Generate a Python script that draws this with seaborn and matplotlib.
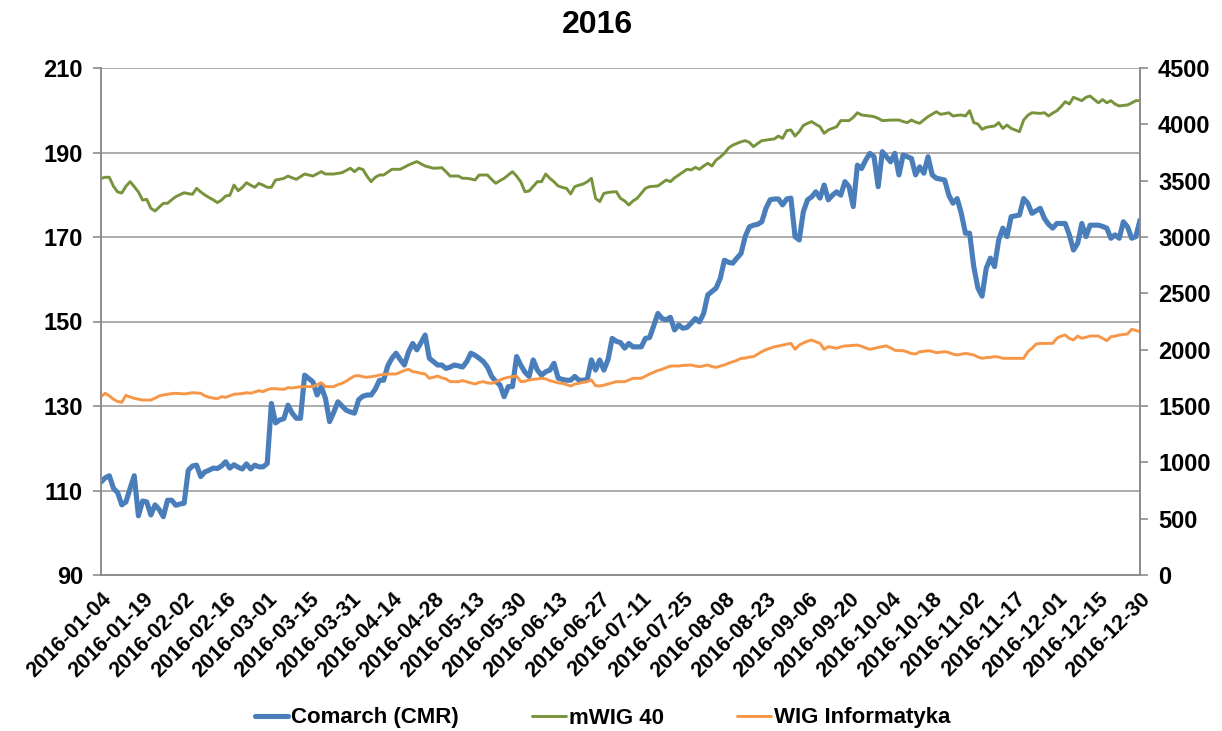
import numpy as np
import pandas as pd
import matplotlib
matplotlib.use("Agg")
import matplotlib.pyplot as plt
import seaborn as sns
from matplotlib.ticker import MultipleLocator

# Notowania 2016 - sesje giełdowe (indeks sesji 0..250)
tick_dates = [
    "2016-01-04", "2016-01-19", "2016-02-02", "2016-02-16", "2016-03-01",
    "2016-03-15", "2016-03-31", "2016-04-14", "2016-04-28", "2016-05-13",
    "2016-05-30", "2016-06-13", "2016-06-27", "2016-07-11", "2016-07-25",
    "2016-08-08", "2016-08-23", "2016-09-06", "2016-09-20", "2016-10-04",
    "2016-10-18", "2016-11-02", "2016-11-17", "2016-12-01", "2016-12-15",
    "2016-12-30",
]

comarch = [
    112.0, 113.0, 113.5, 110.5, 109.5, 106.6, 107.3, 110.5, 113.5, 104.0,
    107.5, 107.3, 104.2, 106.6, 105.5, 103.8, 107.7, 107.7, 106.5, 106.8,
    107.0, 114.8, 115.8, 116.0, 113.3, 114.4, 114.8, 115.3, 115.2, 115.8,
    116.8, 115.3, 116.1, 115.5, 115.1, 116.3, 115.1, 116.0, 115.6, 115.6,
    116.4, 130.6, 126.0, 126.7, 127.0, 130.2, 128.3, 127.1, 127.1, 137.3,
    136.5, 135.7, 132.6, 134.6, 131.8, 126.3, 128.5, 131.0, 130.0, 129.0,
    128.6, 128.3, 131.5, 132.3, 132.6, 132.6, 134.0, 136.1, 136.1, 139.5,
    141.3, 142.5, 141.0, 139.7, 142.8, 144.8, 143.3, 145.0, 146.8, 141.3,
    140.5, 139.7, 139.7, 138.9, 139.2, 139.7, 139.5, 139.2, 140.5, 142.5,
    142.0, 141.3, 140.5, 139.2, 137.0, 135.8, 135.0, 132.2, 134.6, 134.6,
    141.7, 139.7, 138.0, 137.0, 140.9, 138.5, 137.3, 138.1, 138.5, 140.1,
    136.6, 136.3, 136.1, 136.1, 137.0, 136.1, 136.1, 136.3, 140.9, 138.5,
    140.9, 138.5, 141.0, 146.0, 145.3, 145.0, 143.7, 144.8, 144.0, 144.0,
    144.0, 146.0, 146.2, 149.0, 151.9, 150.7, 150.4, 151.0, 148.0, 149.2,
    148.4, 148.6, 149.6, 150.7, 149.9, 151.9, 156.3, 157.1, 157.9, 160.2,
    164.5, 164.0, 163.8, 165.0, 166.1, 170.1, 172.4, 172.8, 173.0, 173.6,
    176.8, 178.8, 179.0, 179.0, 177.6, 179.0, 179.2, 170.1, 169.3, 176.0,
    178.8, 179.5, 180.7, 179.2, 182.3, 178.8, 179.9, 180.7, 179.9, 183.1,
    181.9, 177.2, 187.0, 186.2, 188.2, 189.8, 189.0, 181.9, 190.2, 189.0,
    187.8, 189.8, 184.7, 189.4, 189.0, 188.6, 184.7, 186.6, 185.1, 189.0,
    184.7, 183.9, 183.7, 183.5, 179.9, 178.0, 179.1, 175.6, 170.9, 170.9,
    163.0, 157.9, 156.0, 162.6, 165.0, 163.0, 169.3, 172.1, 170.1, 174.8,
    175.0, 175.2, 179.1, 178.0, 175.6, 176.2, 176.8, 174.4, 173.0, 172.1,
    173.2, 173.2, 173.2, 170.5, 166.9, 168.5, 173.2, 170.1, 172.8, 172.8,
    172.8, 172.5, 172.1, 169.7, 170.5, 169.7, 173.6, 172.4, 169.7, 170.1,
    174.0,
]

mwig40 = [
    3520, 3530, 3530, 3450, 3400, 3390, 3450, 3491, 3447, 3400,
    3328, 3334, 3255, 3231, 3265, 3299, 3299, 3330, 3358, 3375,
    3393, 3385, 3379, 3432, 3400, 3373, 3350, 3330, 3305, 3328,
    3364, 3370, 3461, 3411, 3440, 3482, 3460, 3441, 3476, 3460,
    3441, 3441, 3506, 3512, 3520, 3541, 3525, 3512, 3535, 3559,
    3550, 3541, 3560, 3580, 3559, 3559, 3559, 3565, 3571, 3590,
    3610, 3580, 3610, 3600, 3540, 3491, 3530, 3550, 3550, 3575,
    3601, 3601, 3601, 3620, 3639, 3655, 3669, 3650, 3630, 3620,
    3610, 3612, 3615, 3580, 3541, 3541, 3541, 3521, 3521, 3515,
    3506, 3550, 3550, 3550, 3510, 3477, 3500, 3521, 3550, 3580,
    3540, 3491, 3402, 3408, 3450, 3491, 3491, 3559, 3521, 3490,
    3453, 3440, 3432, 3382, 3447, 3460, 3470, 3490, 3521, 3343,
    3314, 3387, 3395, 3400, 3402, 3343, 3320, 3284, 3320, 3343,
    3388, 3432, 3447, 3450, 3453, 3480, 3506, 3491, 3525, 3550,
    3575, 3601, 3595, 3618, 3601, 3630, 3654, 3630, 3683, 3710,
    3743, 3790, 3815, 3831, 3845, 3855, 3840, 3802, 3830, 3855,
    3860, 3866, 3870, 3896, 3875, 3944, 3950, 3896, 3935, 3990,
    4009, 4024, 4000, 3979, 3920, 3950, 3964, 3979, 4033, 4033,
    4033, 4062, 4103, 4083, 4078, 4074, 4068, 4053, 4033, 4035,
    4038, 4038, 4038, 4025, 4015, 4038, 4020, 4009, 4040, 4068,
    4090, 4112, 4089, 4095, 4103, 4074, 4080, 4083, 4074, 4121,
    4015, 4003, 3956, 3973, 3980, 3985, 4015, 3964, 3994, 3964,
    3950, 3935, 4038, 4080, 4103, 4100, 4097, 4103, 4074, 4100,
    4121, 4157, 4201, 4180, 4240, 4225, 4210, 4240, 4251, 4220,
    4191, 4220, 4191, 4210, 4180, 4163, 4168, 4172, 4190, 4210,
    4210,
]

wig_info = [
    1583, 1613, 1590, 1560, 1540, 1533, 1595, 1580, 1568, 1560,
    1553, 1553, 1553, 1570, 1589, 1598, 1604, 1610, 1613, 1610,
    1607, 1612, 1618, 1615, 1613, 1590, 1577, 1570, 1565, 1583,
    1577, 1590, 1604, 1607, 1610, 1618, 1613, 1625, 1636, 1627,
    1645, 1654, 1654, 1650, 1648, 1663, 1660, 1666, 1670, 1672,
    1672, 1672, 1690, 1707, 1672, 1672, 1672, 1690, 1701, 1720,
    1745, 1766, 1770, 1760, 1755, 1760, 1766, 1775, 1780, 1784,
    1784, 1784, 1800, 1815, 1826, 1805, 1800, 1790, 1784, 1746,
    1755, 1766, 1750, 1740, 1716, 1716, 1716, 1725, 1715, 1705,
    1695, 1710, 1716, 1705, 1701, 1715, 1731, 1745, 1755, 1760,
    1766, 1716, 1720, 1730, 1737, 1740, 1746, 1740, 1725, 1716,
    1705, 1701, 1690, 1677, 1695, 1701, 1710, 1716, 1731, 1680,
    1677, 1685, 1695, 1705, 1716, 1716, 1716, 1730, 1746, 1746,
    1746, 1765, 1784, 1800, 1815, 1826, 1840, 1855, 1855, 1855,
    1860, 1862, 1864, 1855, 1849, 1857, 1864, 1850, 1843, 1855,
    1864, 1880, 1893, 1905, 1923, 1925, 1935, 1938, 1960, 1982,
    2000, 2012, 2025, 2033, 2040, 2050, 2056, 2003, 2040, 2060,
    2075, 2086, 2070, 2056, 2003, 2027, 2020, 2012, 2025, 2033,
    2035, 2038, 2041, 2030, 2015, 2003, 2012, 2020, 2027, 2033,
    2015, 1995, 1991, 1991, 1980, 1965, 1962, 1982, 1985, 1991,
    1985, 1973, 1978, 1982, 1975, 1960, 1953, 1960, 1967, 1960,
    1953, 1935, 1923, 1930, 1932, 1938, 1935, 1923, 1923, 1923,
    1923, 1923, 1923, 1982, 2012, 2050, 2055, 2056, 2056, 2056,
    2101, 2120, 2130, 2100, 2086, 2121, 2101, 2110, 2121, 2121,
    2121, 2100, 2080, 2115, 2120, 2130, 2135, 2139, 2181, 2170,
    2160,
]

df = pd.DataFrame({
    "sesja": np.arange(len(comarch)),
    "Comarch (CMR)": comarch,
    "mWIG 40": mwig40,
    "WIG Informatyka": wig_info,
})

sns.set_style("white")
plt.rcParams["font.family"] = ["Liberation Sans", "DejaVu Sans"]
plt.rcParams["font.weight"] = "bold"
plt.rcParams["text.color"] = "black"

fig = plt.figure(figsize=(12.22, 7.31), dpi=100)
ax = fig.add_axes([101 / 1222, 1 - 575 / 731, (1140 - 101) / 1222, (575 - 68) / 731])
ax2 = ax.twinx()

sns.lineplot(data=df, x="sesja", y="Comarch (CMR)", ax=ax, color="#4A7EBB",
             linewidth=3.7, label="Comarch (CMR)", legend=False)
sns.lineplot(data=df, x="sesja", y="mWIG 40", ax=ax2, color="#77933C",
             linewidth=2.1, label="mWIG 40", legend=False)
sns.lineplot(data=df, x="sesja", y="WIG Informatyka", ax=ax2, color="#F79646",
             linewidth=2.1, label="WIG Informatyka", legend=False)

gray = "#8C8C8C"
ax.set_xlim(0, 250)
ax.set_ylim(90, 210)
ax.set_yticks(range(90, 211, 20))
ax2.set_ylim(0, 4500)
ax2.set_yticks(range(0, 4501, 500))
ax.set_xlabel("")
ax.set_ylabel("")
ax2.set_ylabel("")

ax.set_xticks(range(0, 251, 10))
ax.set_xticklabels(tick_dates, rotation=45, ha="right", rotation_mode="anchor")
ax.xaxis.set_minor_locator(MultipleLocator(5))

ax.yaxis.grid(True, color="#A6A6A6", linewidth=1.3)
ax.set_axisbelow(True)

for a in (ax, ax2):
    a.spines["top"].set_visible(False)
    for s in ("left", "right", "bottom"):
        a.spines[s].set_color(gray)
        a.spines[s].set_linewidth(1.2)
    a.tick_params(axis="both", which="both", direction="out", length=6,
                  color=gray, width=1.2, labelsize=17, labelcolor="black")
ax.tick_params(axis="x", which="major", pad=4, labelsize=15.5)
ax.tick_params(axis="y", pad=7)
ax2.tick_params(axis="y", pad=7)

fig.text(0.489, 1 - 25 / 731, "2016", ha="center", va="center",
         fontsize=23, fontweight="bold", color="black")

handles = ax.get_lines()[:1] + ax2.get_lines()[:2]
labels = [h.get_label() for h in handles]
fig.legend(handles, labels, loc="center", bbox_to_anchor=(0.493, 1 - 718 / 731),
           ncol=3, frameon=False, fontsize=16, handlelength=1.5,
           handletextpad=0.15, columnspacing=3.3, labelcolor="black")

fig.savefig("out.png", dpi=100)
